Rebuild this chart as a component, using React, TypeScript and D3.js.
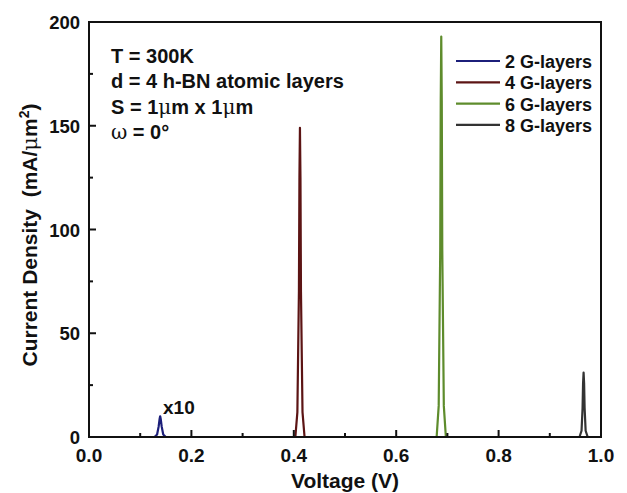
import React from "react";
import * as d3 from "d3";

// series: voltage (V) vs current density (mA/um^2), 2 G-layers already multiplied by 10
const seriesNames = ["2 G-layers", "4 G-layers", "6 G-layers", "8 G-layers"];
const seriesColors = ["#1c1f7a", "#5c1414", "#5e8c2c", "#333333"];

const volt2 = [0, 0.128, 0.133, 0.136, 0.138, 0.139, 0.14, 0.142, 0.145, 0.15, 1];
const cur2 = [0, 0, 1.2, 5, 8.8, 10, 8.8, 5, 1.2, 0, 0];
const volt4 = [0, 0.403, 0.407, 0.41, 0.411, 0.412, 0.413, 0.414, 0.417, 0.421, 1];
const cur4 = [0, 0, 12, 70, 125, 149, 125, 70, 12, 0, 0];
const volt6 = [0, 0.679, 0.683, 0.686, 0.687, 0.688, 0.689, 0.69, 0.693, 0.697, 1];
const cur6 = [0, 0, 15, 90, 162, 193, 162, 90, 15, 0, 0];
const volt8 = [0, 0.958, 0.962, 0.964, 0.965, 0.966, 0.967, 0.968, 0.97, 0.974, 1];
const cur8 = [0, 0, 3, 14, 26, 31, 26, 14, 3, 0, 0];

const allVolts = [volt2, volt4, volt6, volt8];
const allCurs = [cur2, cur4, cur6, cur8];

const xTicks = [0, 0.2, 0.4, 0.6, 0.8, 1.0];
const xMinor = [0.1, 0.3, 0.5, 0.7, 0.9];
const yTicks = [0, 50, 100, 150, 200];
const yMinor = [25, 75, 125, 175];

const infoLines = ["T = 300K", "d = 4 h-BN atomic layers", "S = 1μm x 1μm", "ω = 0°"];

const W = 627;
const H = 493;
const left = 89;
const right = 601;
const top = 22;
const bottom = 437;
const font = "'Liberation Sans', Arial, sans-serif";

const App = () => {
  const x = d3.scaleLinear().domain([0, 1]).range([left, right]);
  const y = d3.scaleLinear().domain([0, 200]).range([bottom, top]);
  const line = d3
    .line<[number, number]>()
    .x((d) => x(d[0]))
    .y((d) => y(d[1]));

  const sym = (s: string) => {
    // μ and ω in a lighter serif face, like the symbol font of the original
    const parts = s.split(/([μω])/);
    return parts.map((p, i) =>
      p === "μ" || p === "ω" ? (
        <tspan key={i} fontWeight="normal" fontFamily="'DejaVu Serif', serif">
          {p}
        </tspan>
      ) : (
        <tspan key={i}>{p}</tspan>
      )
    );
  };

  return (
    <svg
      width={W}
      height={H}
      style={{ position: "absolute", left: 0, top: 0, background: "#fff" }}
      fontFamily={font}
      fontWeight="bold"
    >
      {/* series */}
      {allVolts.map((vs, i) => (
        <path
          key={i}
          d={line(vs.map((v, j) => [v, allCurs[i][j]]) as [number, number][]) || ""}
          fill="none"
          stroke={seriesColors[i]}
          strokeWidth={2.2}
          strokeLinejoin="round"
        />
      ))}

      {/* frame */}
      <rect x={left} y={top} width={right - left} height={bottom - top} fill="none" stroke="#111" strokeWidth={2} />

      {/* x ticks */}
      {xTicks.map((t) => (
        <g key={"x" + t}>
          <line x1={x(t)} x2={x(t)} y1={bottom} y2={bottom - 7} stroke="#111" strokeWidth={2} />
          <text x={x(t)} y={462} textAnchor="middle" fontSize={19} fill="#111">
            {t.toFixed(1)}
          </text>
        </g>
      ))}
      {xMinor.map((t) => (
        <line key={"xm" + t} x1={x(t)} x2={x(t)} y1={bottom} y2={bottom - 4} stroke="#111" strokeWidth={2} />
      ))}

      {/* y ticks */}
      {yTicks.map((t) => (
        <g key={"y" + t}>
          <line x1={left} x2={left + 7} y1={y(t)} y2={y(t)} stroke="#111" strokeWidth={2} />
          <text x={80} y={y(t) + 7} textAnchor="end" fontSize={18.5} fill="#111">
            {t}
          </text>
        </g>
      ))}
      {yMinor.map((t) => (
        <line key={"ym" + t} x1={left} x2={left + 4} y1={y(t)} y2={y(t)} stroke="#111" strokeWidth={2} />
      ))}

      {/* axis titles */}
      <text x={345} y={488} textAnchor="middle" fontSize={21} fill="#111">
        Voltage (V)
      </text>
      <text
        transform="translate(37, 235) rotate(-90)"
        textAnchor="middle"
        fontSize={21}
        fill="#111"
        style={{ whiteSpace: "pre" }}
      >
        {"Current Density  (mA/"}
        <tspan fontWeight="normal" fontFamily="'DejaVu Serif', serif">μ</tspan>m
        <tspan dy={-8} fontSize={14}>2</tspan>
        <tspan dy={8}>)</tspan>
      </text>

      {/* info text */}
      {infoLines.map((s, i) => (
        <text key={s} x={111} y={63 + i * 25.3} fontSize={20} fill="#111">
          {sym(s)}
        </text>
      ))}

      {/* x10 label */}
      <text x={163} y={414} fontSize={19} fill="#111">
        x10
      </text>

      {/* legend */}
      {seriesNames.map((n, i) => (
        <g key={n}>
          <line x1={456} x2={500} y1={61 + i * 21.3} y2={61 + i * 21.3} stroke={seriesColors[i]} strokeWidth={2.2} />
          <text x={505} y={61 + i * 21.3 + 7} fontSize={18} fill="#111">
            {n}
          </text>
        </g>
      ))}
    </svg>
  );
};

export default App;
